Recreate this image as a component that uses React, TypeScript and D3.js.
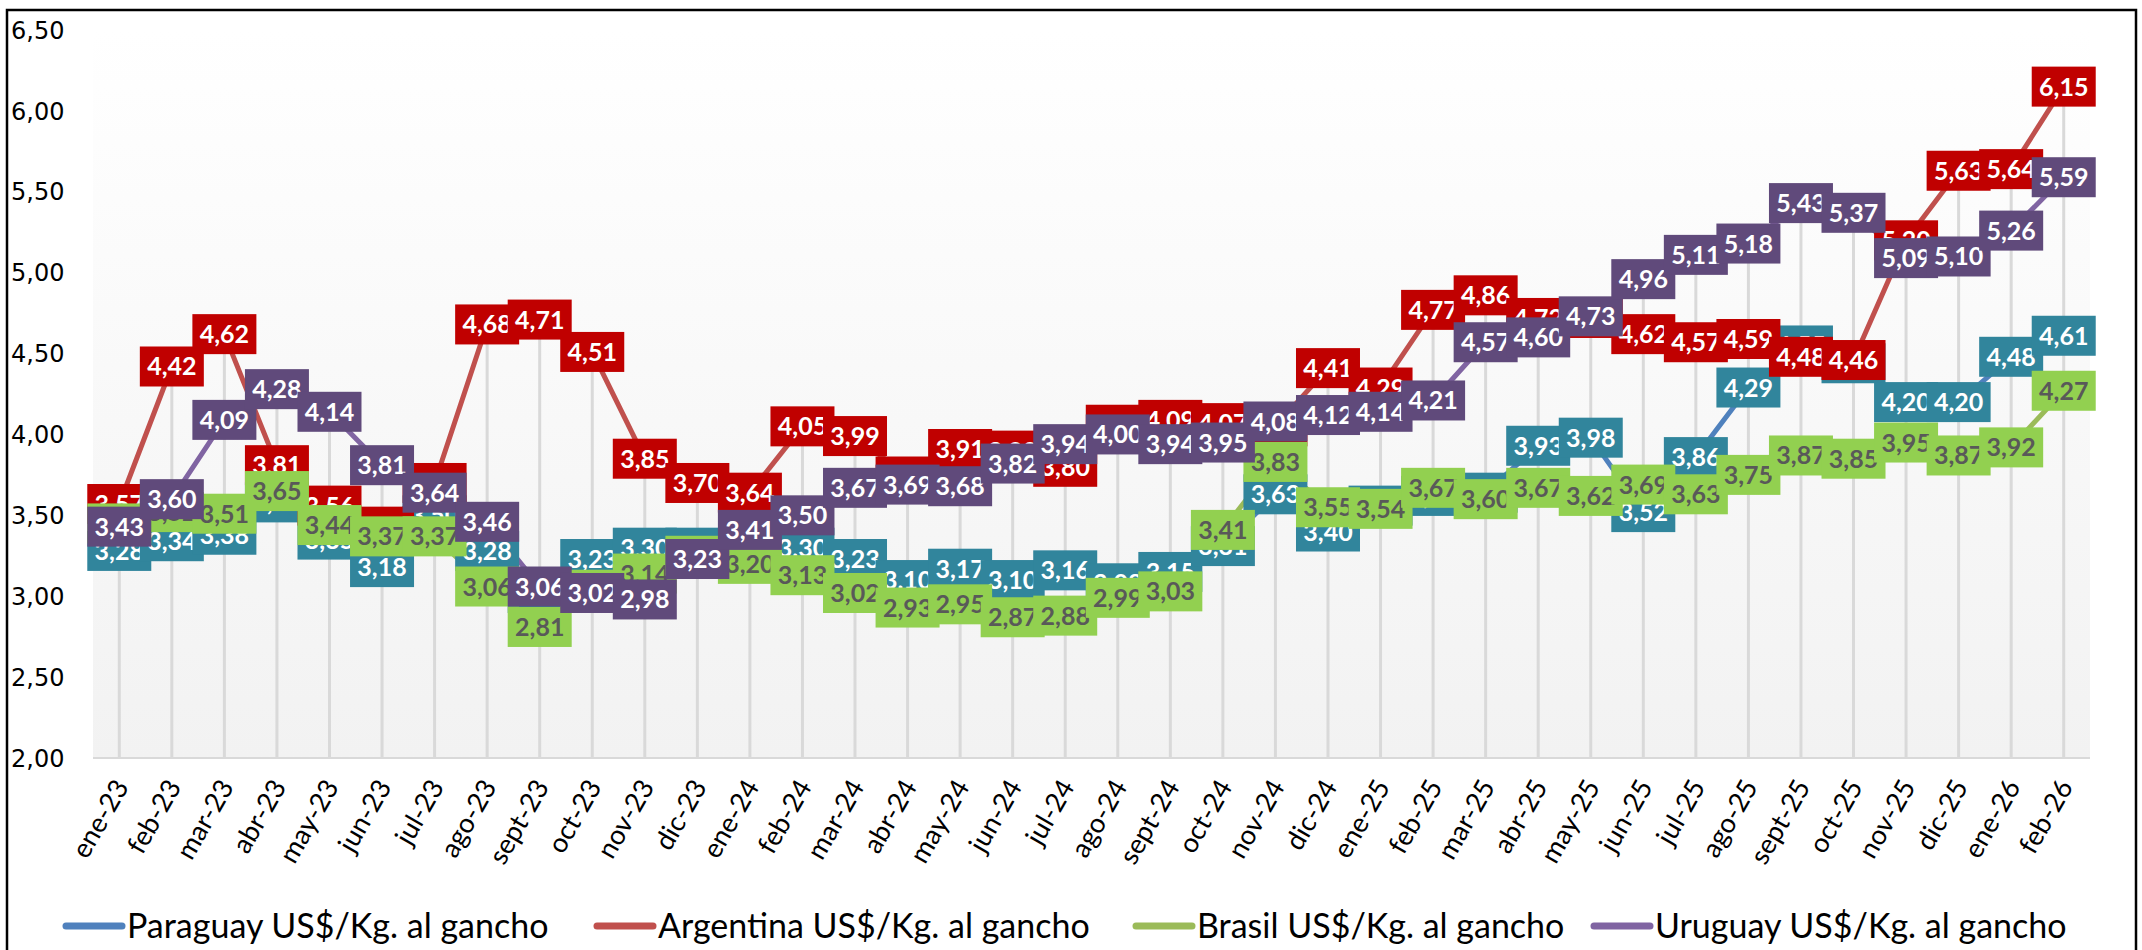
import * as d3 from "d3";

const meses = [
  "ene-23", "feb-23", "mar-23", "abr-23", "may-23", "jun-23", "jul-23", "ago-23", "sept-23", "oct-23", "nov-23", "dic-23",
  "ene-24", "feb-24", "mar-24", "abr-24", "may-24", "jun-24", "jul-24", "ago-24", "sept-24", "oct-24", "nov-24", "dic-24",
  "ene-25", "feb-25", "mar-25", "abr-25", "may-25", "jun-25", "jul-25", "ago-25", "sept-25", "oct-25", "nov-25", "dic-25",
  "ene-26", "feb-26",
];

const paraguay = [
  3.28, 3.34, 3.38, 3.58, 3.35, 3.18, 3.5, 3.28, 3.02, 3.23, 3.3, 3.3,
  3.3, 3.3, 3.23, 3.1, 3.17, 3.1, 3.16, 3.08, 3.15, 3.31, 3.63, 3.4,
  3.56, 3.62, 3.64, 3.93, 3.98, 3.52, 3.86, 4.29, 4.55, 4.44, 4.2, 4.2,
  4.48, 4.61,
];

const argentina = [
  3.57, 4.42, 4.62, 3.81, 3.56, 3.43, 3.7, 4.68, 4.71, 4.51, 3.85, 3.7,
  3.64, 4.05, 3.99, 3.74, 3.91, 3.9, 3.8, 4.06, 4.09, 4.07, 4.05, 4.41,
  4.29, 4.77, 4.86, 4.72, 4.72, 4.62, 4.57, 4.59, 4.48, 4.46, 5.2, 5.63,
  5.64, 6.15,
];

const brasil = [
  3.45, 3.52, 3.51, 3.65, 3.44, 3.37, 3.37, 3.06, 2.81, 3.04, 3.14, 3.25,
  3.2, 3.13, 3.02, 2.93, 2.95, 2.87, 2.88, 2.99, 3.03, 3.41, 3.83, 3.55,
  3.54, 3.67, 3.6, 3.67, 3.62, 3.69, 3.63, 3.75, 3.87, 3.85, 3.95, 3.87,
  3.92, 4.27,
];

const uruguay = [
  3.43, 3.6, 4.09, 4.28, 4.14, 3.81, 3.64, 3.46, 3.06, 3.02, 2.98, 3.23,
  3.41, 3.5, 3.67, 3.69, 3.68, 3.82, 3.94, 4.0, 3.94, 3.95, 4.08, 4.12,
  4.14, 4.21, 4.57, 4.6, 4.73, 4.96, 5.11, 5.18, 5.43, 5.37, 5.09, 5.1,
  5.26, 5.59,
];

const ticksY = [2, 2.5, 3, 3.5, 4, 4.5, 5, 5.5, 6, 6.5];

const series = [
  { nombre: "Paraguay US$/Kg. al gancho", valores: paraguay, linea: "#4F81BD", caja: "#31859C", texto: "#FFFFFF" },
  { nombre: "Argentina US$/Kg. al gancho", valores: argentina, linea: "#C0504D", caja: "#C00000", texto: "#FFFFFF" },
  { nombre: "Brasil US$/Kg. al gancho", valores: brasil, linea: "#9BBB59", caja: "#92D050", texto: "#595959" },
  { nombre: "Uruguay US$/Kg. al gancho", valores: uruguay, linea: "#8064A2", caja: "#604A7B", texto: "#FFFFFF" },
];

const ANCHO = 2142;
const ALTO = 950;
const fmt = (v: number) => v.toFixed(2).replace(".", ",");

export default function App() {
  const x = d3.scaleBand().domain(meses).range([93, 2090]);
  const cx = (m: string) => (x(m) || 0) + x.bandwidth() / 2;
  const y = d3.scaleLinear().domain([2, 6.5]).range([758, 30]);

  const linea = d3
    .line<number>()
    .x((_, i) => cx(meses[i]))
    .y((d) => y(d));

  // posiciones de la leyenda (muestra de línea, texto)
  const leyendaX = [66, 597, 1136, 1594];
  const leyendaY = 926;

  const cajaAncho = 64;
  const cajaAlto = 40;

  return (
    <svg
      width={ANCHO}
      height={ALTO}
      viewBox={`0 0 ${ANCHO} ${ALTO}`}
      style={{ position: "absolute", left: 0, top: 0, background: "#fff" }}
    >
      <defs>
        <linearGradient id="fondo" x1="0" y1="0" x2="0" y2="1">
          <stop offset="0" stopColor="#FFFFFF" />
          <stop offset="1" stopColor="#F2F2F2" />
        </linearGradient>
      </defs>
      <rect x={0} y={0} width={ANCHO} height={ALTO} fill="#fff" />
      <rect x={7} y={10} width={2129} height={980} fill="none" stroke="#000" strokeWidth={2.5} />

      <rect x={93} y={y(6.5)} width={2090 - 93} height={y(2) - y(6.5)} fill="url(#fondo)" />

      {/* líneas de proyección desde el punto más alto hasta el eje */}
      {meses.map((m, i) => {
        const maximo = d3.max(series, (s) => s.valores[i]) || 2;
        return (
          <line key={m} x1={cx(m)} x2={cx(m)} y1={y(maximo)} y2={y(2)} stroke="#D9D9D9" strokeWidth={3} />
        );
      })}
      <line x1={93} x2={2090} y1={y(2)} y2={y(2)} stroke="#D9D9D9" strokeWidth={2} />

      {ticksY.map((t) => (
        <text key={t} x={11} y={y(t)} dy="0.36em" fontFamily="DejaVu Sans" fontSize={24} fill="#000">
          {fmt(t)}
        </text>
      ))}

      {meses.map((m) => (
        <text
          key={m}
          transform={`translate(${cx(m) + 2},${782}) rotate(-60)`}
          textAnchor="end"
          dy="0.35em"
          fontFamily="Lato"
          fontSize={27}
          fill="#000"
        >
          {m}
        </text>
      ))}

      {series.map((s) => (
        <path key={s.nombre} d={linea(s.valores) || ""} fill="none" stroke={s.linea} strokeWidth={5} strokeLinejoin="round" />
      ))}

      {series.map((s) => (
        <g key={s.nombre + "-etq"}>
          {s.valores.map((v, i) => (
            <g key={i} transform={`translate(${cx(meses[i])},${y(v)})`}>
              <rect x={-cajaAncho / 2} y={-cajaAlto / 2} width={cajaAncho} height={cajaAlto} fill={s.caja} />
              <text
                textAnchor="middle"
                dy="0.36em"
                fontFamily="Lato"
                fontWeight={700}
                fontSize={25}
                fill={s.texto}
              >
                {fmt(v)}
              </text>
            </g>
          ))}
        </g>
      ))}

      {series.map((s, i) => (
        <g key={s.nombre + "-ley"} transform={`translate(${leyendaX[i]},${leyendaY})`}>
          <line x1={0} x2={56} y1={0} y2={0} stroke={s.linea} strokeWidth={7} strokeLinecap="round" />
          <text x={61} dy="0.35em" fontFamily="Lato" fontSize={34} fill="#000">
            {s.nombre}
          </text>
        </g>
      ))}
    </svg>
  );
}
